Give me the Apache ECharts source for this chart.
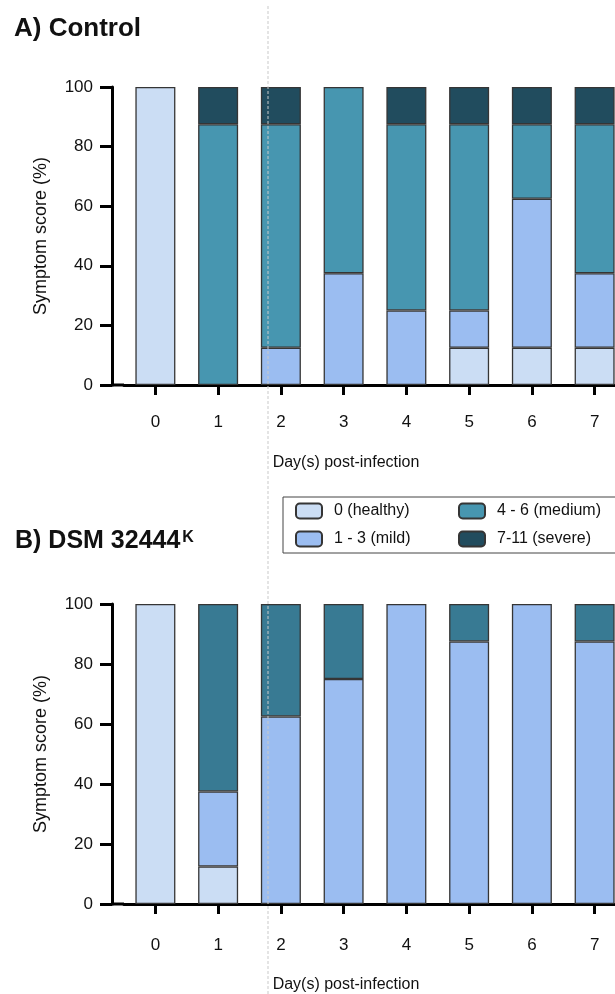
<!DOCTYPE html>
<html>
<head>
<meta charset="utf-8">
<script src="https://cdn.jsdelivr.net/npm/echarts@6/dist/echarts.min.js"></script>
<style>
html,body{margin:0;padding:0;background:#fff;}
#chart{width:615px;height:994px;}
</style>
</head>
<body>
<div id="chart"></div>
<script>
// ---- Data ----
const days = ['0', '1', '2', '3', '4', '5', '6', '7'];
const seriesNames = ['0 (healthy)', '1 - 3 (mild)', '4 - 6 (medium)', '7-11 (severe)'];
const yTicks = [0, 20, 40, 60, 80, 100];

// A) Control (% of animals per symptom score class)
const controlHealthy = [100, 0, 0, 0, 0, 12.5, 12.5, 12.5];
const controlMild    = [0, 0, 12.5, 37.5, 25, 12.5, 50, 25];
const controlMedium  = [0, 87.5, 75, 62.5, 62.5, 62.5, 25, 50];
const controlSevere  = [0, 12.5, 12.5, 0, 12.5, 12.5, 12.5, 12.5];

// B) DSM 32444K
const dsmHealthy = [100, 12.5, 0, 0, 0, 0, 0, 0];
const dsmMild    = [0, 25, 62.5, 75, 100, 87.5, 100, 87.5];
const dsmMedium  = [0, 62.5, 37.5, 25, 0, 12.5, 0, 12.5];

const titleA = 'A) Control';
const titleB = 'B) DSM 32444';
const titleBSup = 'K';
const yName = 'Symptom score (%)';
const xName = 'Day(s) post-infection';

// ---- Styling ----
const FONT = '"Liberation Sans", Arial, Helvetica, sans-serif';
const colors = {
  healthy: '#cbddf4',
  mild: '#9bbdf1',
  medium: '#4796b0',
  severe: '#214c5e',
  dsmUpper: '#387a93'
};

const GRID_LEFT = 124;
const GRID_WIDTH = 502;
const Y_OFFSET = 12;
const gridA = { top: 87, height: 298 };
const gridB = { top: 604, height: 300 };

function clean(arr) {
  return arr.map(v => (v === 0 ? null : v));
}

function barSeries(name, data, color, gridIdx, stack) {
  return {
    type: 'bar',
    name: name,
    stack: stack,
    xAxisIndex: gridIdx,
    yAxisIndex: gridIdx,
    data: clean(data),
    barWidth: 40,
    itemStyle: { color: color, borderColor: '#353535', borderWidth: 1.3 },
    emphasis: { disabled: true },
    silent: true
  };
}

function makeX(gridIdx, labelMargin, nameGap) {
  return {
    type: 'category',
    gridIndex: gridIdx,
    data: days,
    boundaryGap: true,
    splitLine: { show: false },
    axisLine: { show: true, onZero: false, lineStyle: { color: '#000', width: 3 } },
    axisTick: { show: true, alignWithLabel: true, length: 10, lineStyle: { color: '#000', width: 3 } },
    axisLabel: { color: '#111', fontSize: 17, fontFamily: FONT, margin: labelMargin },
    name: xName,
    nameLocation: 'middle',
    nameGap: nameGap,
    nameTextStyle: { color: '#111', fontSize: 16, fontFamily: FONT, padding: [0, 58, 0, 0] }
  };
}

function makeY(gridIdx) {
  return {
    type: 'value',
    gridIndex: gridIdx,
    min: 0,
    max: 100,
    interval: 20,
    offset: Y_OFFSET,
    splitLine: { show: false },
    axisLine: { show: true, onZero: false, lineStyle: { color: '#000', width: 3 } },
    axisTick: { show: true, length: 12, lineStyle: { color: '#000', width: 3 } },
    axisLabel: { color: '#111', fontSize: 17, fontFamily: FONT, margin: 19 },
    name: yName,
    nameLocation: 'middle',
    nameRotate: 90,
    nameGap: 62,
    nameTextStyle: { color: '#111', fontSize: 18, fontFamily: FONT }
  };
}

const chart = echarts.init(document.getElementById('chart'), null, { renderer: 'canvas' });

const option = {
  animation: false,
  backgroundColor: '#fff',
  title: [
    {
      text: titleA, left: 14, top: 16, padding: 0,
      textStyle: { fontSize: 26, fontWeight: 'bold', color: '#111', fontFamily: FONT }
    },
    {
      text: '{m|' + titleB + '}{s|' + titleBSup + '}', left: 15, top: 526, padding: 0,
      textStyle: {
        rich: {
          m: { fontSize: 25, fontWeight: 'bold', color: '#111', fontFamily: FONT, lineHeight: 30 },
          s: { fontSize: 16, fontWeight: 'bold', color: '#111', fontFamily: FONT, lineHeight: 16, verticalAlign: 'top', padding: [4, 0, 0, 2] }
        }
      }
    }
  ],
  legend: {
    left: 283, top: 497,
    orient: 'horizontal',
    width: 330,
    data: [seriesNames[0], seriesNames[2], seriesNames[1], seriesNames[3]],
    itemWidth: 26, itemHeight: 15,
    itemGap: 10,
    padding: [5, 6, 5, 12],
    borderColor: '#444', borderWidth: 1,
    selectedMode: false,
    textStyle: { fontSize: 16, color: '#111', fontFamily: FONT, width: 114, lineHeight: 18, padding: [0, 0, 0, 7] }
  },
  grid: [
    { left: GRID_LEFT, width: GRID_WIDTH, top: gridA.top, height: gridA.height, outerBoundsMode: 'none', containLabel: false },
    { left: GRID_LEFT, width: GRID_WIDTH, top: gridB.top, height: gridB.height, outerBoundsMode: 'none', containLabel: false }
  ],
  xAxis: [makeX(0, 29, 70), makeX(1, 33, 73)],
  yAxis: [makeY(0), makeY(1)],
  series: [
    barSeries(seriesNames[0], controlHealthy, colors.healthy, 0, 'A'),
    barSeries(seriesNames[1], controlMild, colors.mild, 0, 'A'),
    barSeries(seriesNames[2], controlMedium, colors.medium, 0, 'A'),
    barSeries(seriesNames[3], controlSevere, colors.severe, 0, 'A'),
    barSeries(seriesNames[0], dsmHealthy, colors.healthy, 1, 'B'),
    barSeries(seriesNames[1], dsmMild, colors.mild, 1, 'B'),
    barSeries(seriesNames[2], dsmMedium, colors.dsmUpper, 1, 'B')
  ],
  graphic: [
    // join the offset y-axis to the start of each x-axis line
    {
      type: 'line', silent: true,
      shape: { x1: GRID_LEFT - Y_OFFSET, y1: gridA.top + gridA.height, x2: GRID_LEFT, y2: gridA.top + gridA.height },
      style: { stroke: '#000', lineWidth: 3 }
    },
    {
      type: 'line', silent: true,
      shape: { x1: GRID_LEFT - Y_OFFSET, y1: gridB.top + gridB.height, x2: GRID_LEFT, y2: gridB.top + gridB.height },
      style: { stroke: '#000', lineWidth: 3 }
    },
    {
      type: 'line', silent: true, z: 100,
      shape: { x1: 268, y1: 6, x2: 268, y2: 994 },
      style: { stroke: '#c9c9c9', lineWidth: 1, lineDash: [3, 2] }
    }
  ]
};

chart.setOption(option);
</script>
</body>
</html>
